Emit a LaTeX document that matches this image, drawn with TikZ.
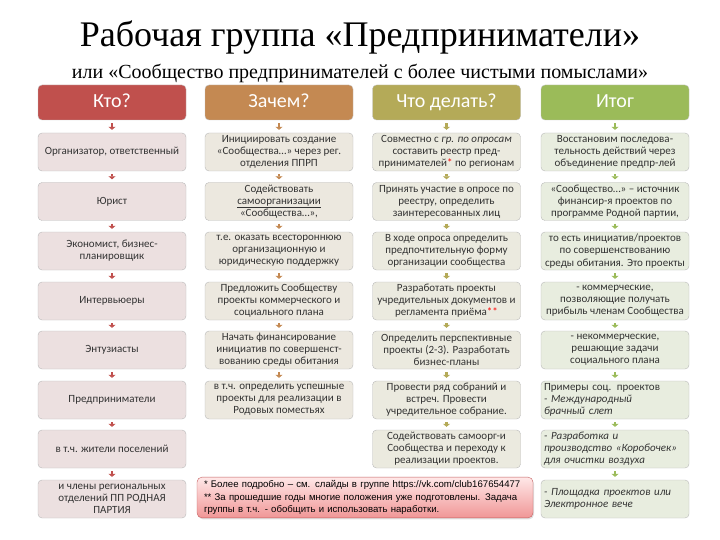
\documentclass[tikz,border=0pt]{standalone}
\usepackage{fontspec}
\setmainfont{Carlito}
\newfontfamily\titlefont{Liberation Serif}
\newfontfamily\notefont{Liberation Sans}
\usetikzlibrary{arrows.meta,shadows}
\definecolor{ktored}{RGB}{192,80,77}
\definecolor{zachbrown}{RGB}{196,137,82}
\definecolor{chtoolive}{RGB}{180,170,88}
\definecolor{itoggreen}{RGB}{155,187,89}
\definecolor{ktofill}{RGB}{236,224,224}
\definecolor{zachfill}{RGB}{236,232,223}
\definecolor{chtofill}{RGB}{235,234,223}
\definecolor{itogfill}{RGB}{232,237,223}
\definecolor{cellline}{RGB}{185,185,185}
\definecolor{noteline}{RGB}{195,95,95}

\begin{document}
\begin{tikzpicture}[x=1pt,y=-1pt,
    head/.style={draw=white!75!black,rounded corners=4pt,minimum width=148pt,minimum height=35pt,
      inner sep=0pt,text height=14pt,text depth=4pt,text=white,font=\fontsize{20}{24}\selectfont},
    cell/.style={draw=cellline,rounded corners=4pt,minimum width=148pt,minimum height=38pt,
      inner sep=1pt,align=center,text=black!80,font=\fontsize{11}{12.1}\selectfont},
    leftcell/.style={cell,align=left,text width=142pt},
    link/.style={line width=2.8pt,-{Triangle[width=7pt,length=3pt]},shorten <=3pt,shorten >=3pt}]
  \useasboundingbox (0,0) rectangle (720,540);

  \node (title) at (360,38) {\titlefont\fontsize{36}{40}\selectfont Рабочая группа «Предприниматели»};
  \node (subtitle) at (360,73) {\titlefont\fontsize{20}{22}\selectfont или «Сообщество предпринимателей с более чистыми помыслами»};

  % Кто?
  \node[head,fill=ktored] (kto) at (112,102.5) {Кто?};
  \node[cell,fill=ktofill] (k1) at (112,152) {Организатор, ответственный};
  \node[cell,fill=ktofill] (k2) at (112,201.5) {Юрист};
  \node[cell,fill=ktofill] (k3) at (112,251) {Экономист, бизнес-\\планировщик};
  \node[cell,fill=ktofill] (k4) at (112,301) {Интервьюеры};
  \node[cell,fill=ktofill] (k5) at (112,350) {Энтузиасты};
  \node[cell,fill=ktofill] (k6) at (112,400) {Предприниматели};
  \node[cell,fill=ktofill] (k7) at (112,449) {в т.ч. жители поселений};
  \node[cell,fill=ktofill] (k8) at (112,499) {и члены региональных\\отделений ПП РОДНАЯ\\ПАРТИЯ};

  % Зачем?
  \node[head,fill=zachbrown] (zach) at (279,102.5) {Зачем?};
  \node[cell,fill=zachfill] (z1) at (279,152) {Инициировать создание\\«Сообщества…» через рег.\\отделения ППРП};
  \node[cell,fill=zachfill] (z2) at (279,201.5) {Содействовать\\\underline{самоорганизации}\\«Сообщества…»,};
  \node[cell,fill=zachfill] (z3) at (279,251) {т.е. оказать всестороннюю\\организационную и\\юридическую поддержку};
  \node[cell,fill=zachfill] (z4) at (279,301) {Предложить Сообществу\\проекты коммерческого и\\социального плана};
  \node[cell,fill=zachfill] (z5) at (279,350) {Начать финансирование\\инициатив по совершенст-\\вованию среды обитания};
  \node[cell,fill=zachfill] (z6) at (279,400) {в т.ч. определить успешные\\проекты для реализации в\\Родовых поместьях};

  % Что делать?
  \node[head,fill=chtoolive] (chto) at (446.5,102.5) {Что делать?};
  \node[cell,fill=chtofill] (c1) at (446.5,152) {Совместно с \textit{гр. по опросам}\\составить реестр пред-\\принимателей{\color{red}*} по регионам};
  \node[cell,fill=chtofill] (c2) at (446.5,201.5) {Принять участие в опросе по\\реестру, определить\\заинтересованных лиц};
  \node[cell,fill=chtofill] (c3) at (446.5,251) {В ходе опроса определить\\предпочтительную форму\\организации сообщества};
  \node[cell,fill=chtofill] (c4) at (446.5,301) {Разработать проекты\\учредительных документов и\\регламента приёма{\color{red}**}};
  \node[cell,fill=chtofill] (c5) at (446.5,350) {Определить перспективные\\проекты (2-3). Разработать\\бизнес-планы};
  \node[cell,fill=chtofill] (c6) at (446.5,400) {Провести ряд собраний и\\встреч. Провести\\учредительное собрание.};
  \node[cell,fill=chtofill] (c7) at (446.5,449) {Содействовать самоорг-и\\Сообщества и переходу к\\реализации проектов.};

  % Итог
  \node[head,fill=itoggreen] (itog) at (615,102.5) {Итог};
  \node[cell,fill=itogfill] (i1) at (615,152) {Восстановим последова-\\тельность действий через\\объединение предпр-лей};
  \node[cell,fill=itogfill] (i2) at (615,201.5) {«Сообщество…» – источник\\финансир-я проектов по\\программе Родной партии,};
  \node[cell,fill=itogfill] (i3) at (615,251) {то есть инициатив/проектов\\по совершенствованию\\среды обитания. Это проекты};
  \node[cell,fill=itogfill] (i4) at (615,301) {- коммерческие,\\позволяющие получать\\прибыль членам Сообщества};
  \node[cell,fill=itogfill] (i5) at (615,350) {- некоммерческие,\\решающие задачи\\социального плана};
  \node[leftcell,fill=itogfill] (i6) at (615,400) {Примеры соц. проектов\\\textit{- Международный}\\\textit{брачный слет}};
  \node[leftcell,fill=itogfill] (i7) at (615,449) {\textit{- Разработка и}\\\textit{производство «Коробочек»}\\\textit{для очистки воздуха}};
  \node[leftcell,fill=itogfill] (i8) at (615,499) {\textit{- Площадка проектов или}\\\textit{Электронное вече}};

  % сноски
  \node[draw=noteline,rounded corners=5pt,minimum width=336pt,minimum height=39pt,
    top color={rgb,255:red,255;green,232;blue,232},bottom color={rgb,255:red,240;green,150;blue,150},
    drop shadow={opacity=0.25,shadow xshift=1pt,shadow yshift=-1.5pt},
    text width=322pt,align=left,font=\notefont\fontsize{9.6}{12.5}\selectfont] (note) at (365,497.5)
    {* Более подробно – см. слайды в группе https://vk.com/club167654477\\{}%
     ** За прошедшие годы многие положения уже подготовлены. Задача\\{}%
     группы в т.ч. - обобщить и использовать наработки.};

  \draw[link,ktored] (kto) -- (k1);
  \draw[link,ktored] (k1) -- (k2);
  \draw[link,ktored] (k2) -- (k3);
  \draw[link,ktored] (k3) -- (k4);
  \draw[link,ktored] (k4) -- (k5);
  \draw[link,ktored] (k5) -- (k6);
  \draw[link,ktored] (k6) -- (k7);
  \draw[link,ktored] (k7) -- (k8);
  \draw[link,zachbrown] (zach) -- (z1);
  \draw[link,zachbrown] (z1) -- (z2);
  \draw[link,zachbrown] (z2) -- (z3);
  \draw[link,zachbrown] (z3) -- (z4);
  \draw[link,zachbrown] (z4) -- (z5);
  \draw[link,zachbrown] (z5) -- (z6);
  \draw[link,chtoolive] (chto) -- (c1);
  \draw[link,chtoolive] (c1) -- (c2);
  \draw[link,chtoolive] (c2) -- (c3);
  \draw[link,chtoolive] (c3) -- (c4);
  \draw[link,chtoolive] (c4) -- (c5);
  \draw[link,chtoolive] (c5) -- (c6);
  \draw[link,chtoolive] (c6) -- (c7);
  \draw[link,itoggreen] (itog) -- (i1);
  \draw[link,itoggreen] (i1) -- (i2);
  \draw[link,itoggreen] (i2) -- (i3);
  \draw[link,itoggreen] (i3) -- (i4);
  \draw[link,itoggreen] (i4) -- (i5);
  \draw[link,itoggreen] (i5) -- (i6);
  \draw[link,itoggreen] (i6) -- (i7);
  \draw[link,itoggreen] (i7) -- (i8);
\end{tikzpicture}
\end{document}
